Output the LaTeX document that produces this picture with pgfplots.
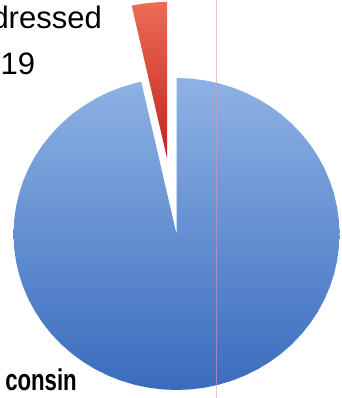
\documentclass[border=0pt]{standalone}
\usepackage{pgfplots}
\pgfplotsset{compat=1.18}
\usepackage{fontspec}
\setmainfont{Liberation Sans}
\definecolor{blueTop}{RGB}{142,178,228}
\definecolor{blueBot}{RGB}{58,108,190}
\definecolor{redTop}{RGB}{236,108,86}
\definecolor{redBot}{RGB}{196,36,26}
\definecolor{pinkLine}{RGB}{225,150,175}
\begin{document}
\begin{tikzpicture}
\useasboundingbox (0,0) rectangle (341pt,398pt);
\clip (0,0) rectangle (341pt,398pt);
\begin{axis}[
  at={(176.5pt,164pt)}, anchor=origin,
  x=163pt, y=156pt,
  xmin=-1.2, xmax=1.2, ymin=-1.2, ymax=1.6,
  hide axis, clip=false,
]
% pie shares: red 3.5 % (90 deg to 102.5 deg, exploded), blue 96.5 %
\addplot[draw=none, top color=blueTop, bottom color=blueBot, data cs=polar] coordinates {
(0,0) (102.5,1) (105,1) (110,1) (115,1) (120,1) (125,1) (130,1) (135,1) (140,1) (145,1)
(150,1) (155,1) (160,1) (165,1) (170,1) (175,1) (180,1) (185,1) (190,1) (195,1)
(200,1) (205,1) (210,1) (215,1) (220,1) (225,1) (230,1) (235,1) (240,1) (245,1)
(250,1) (255,1) (260,1) (265,1) (270,1) (275,1) (280,1) (285,1) (290,1) (295,1)
(300,1) (305,1) (310,1) (315,1) (320,1) (325,1) (330,1) (335,1) (340,1) (345,1)
(350,1) (355,1) (360,1) (365,1) (370,1) (375,1) (380,1) (385,1) (390,1) (395,1)
(400,1) (405,1) (410,1) (415,1) (420,1) (425,1) (430,1) (435,1) (440,1) (445,1)
(450,1) (0,0)} -- cycle;
\addplot[draw=none, top color=redTop, bottom color=redBot, data cs=polar, xshift=-9.5pt, yshift=76pt] coordinates {
(0,0) (90,1) (92.5,1) (95,1) (97.5,1) (100,1) (102.5,1) (0,0)} -- cycle;
\addplot[draw=pinkLine, line width=0.6pt, opacity=0.6] coordinates {(0.242,-1.2) (0.242,1.6)};
\end{axis}
\node[anchor=base east, inner sep=0pt, font=\fontsize{31}{37}\selectfont] at (102pt,369pt) {dressed};
\node[anchor=base west, inner sep=0pt, font=\fontsize{31}{37}\selectfont] at (0.5pt,323pt) {19};
\node[anchor=base east, inner sep=0pt, font=\fontsize{30}{36}\selectfont\bfseries] at (77pt,7pt) {\scalebox{0.74}[1]{consin}};
\end{tikzpicture}
\end{document}
